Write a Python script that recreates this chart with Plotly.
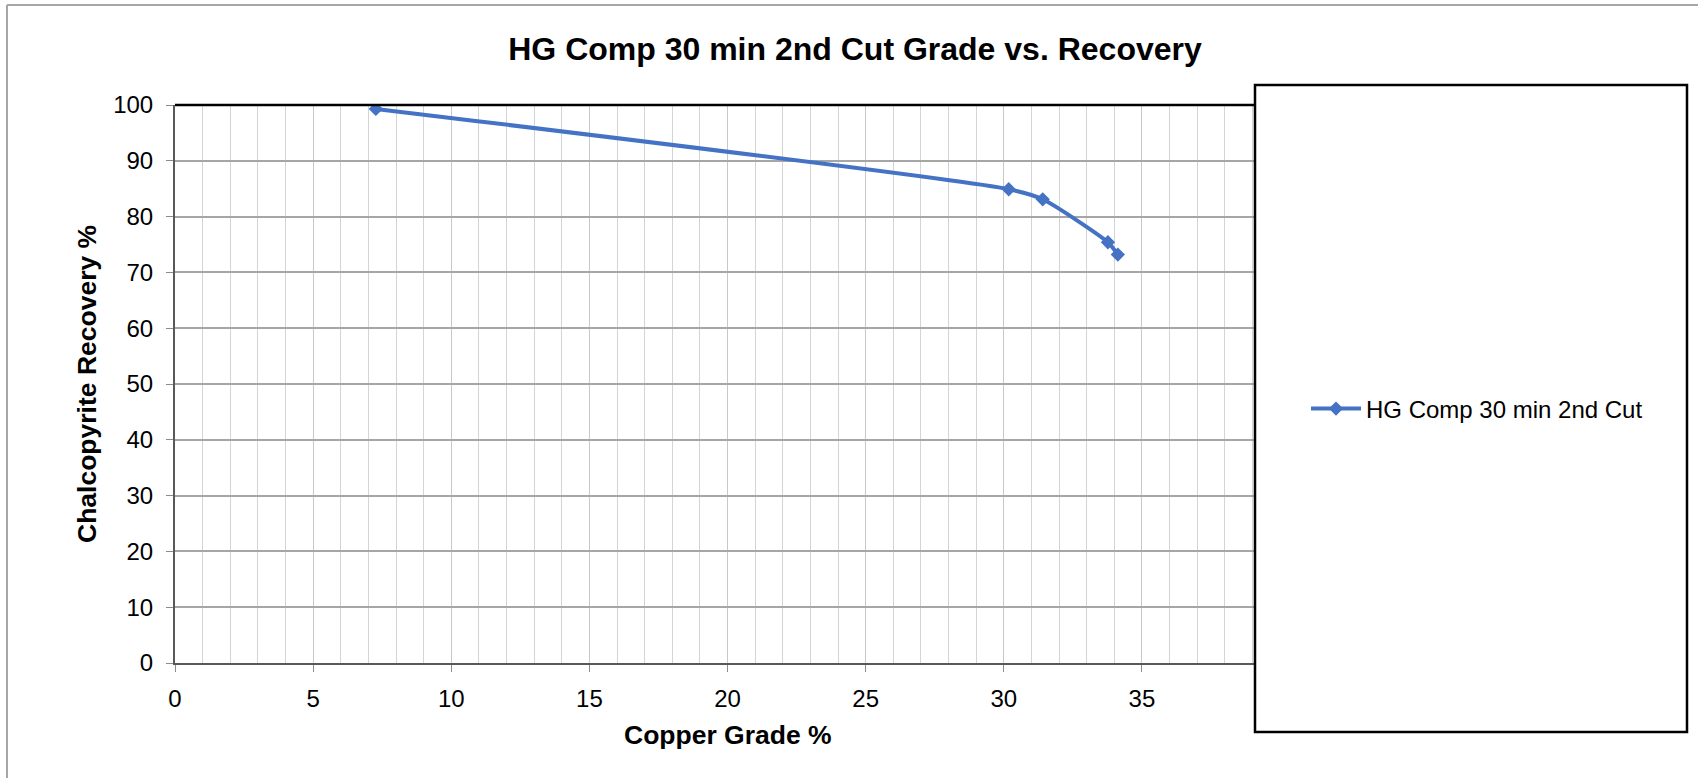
import plotly.graph_objects as go

# Grade / recovery points for the 30 min 2nd cut
copper_grade = [7.27, 30.18, 31.41, 33.77, 34.13]
cp_recovery = [99.3, 84.9, 83.1, 75.4, 73.2]
series_name = "HG Comp 30 min 2nd Cut"

W, H = 1698, 778
L, R, T, B = 175, 1280, 105, 663
FONT = "Liberation Sans, Arial, sans-serif"
BLUE = "#4472C4"


# pixel positions -> paper fractions of the plot area
def px_x(p):
    return (p - L) / (R - L)


def px_y(p):
    return (B - p) / (B - T)


fig = go.Figure()
fig.add_trace(go.Scatter(
    x=copper_grade, y=cp_recovery, name=series_name,
    mode="lines+markers",
    line=dict(color=BLUE, width=4, shape="spline", smoothing=0.6),
    marker=dict(symbol="diamond", size=11, color=BLUE),
))

fig.update_layout(
    width=W, height=H,
    margin=dict(l=L, r=W - R, t=T, b=H - B),
    paper_bgcolor="white", plot_bgcolor="white",
    font=dict(family=FONT, size=24, color="black"),
    title=dict(text="<b>HG Comp 30 min 2nd Cut Grade vs. Recovery</b>",
               font=dict(family=FONT, size=32, color="black"),
               x=px_x(855), xanchor="center", xref="paper",
               y=1 - 49 / H, yanchor="middle", yref="container"),
    showlegend=True,
    legend=dict(x=px_x(1306), y=px_y(409), xref="paper", yref="paper",
                xanchor="left", yanchor="middle",
                bgcolor="rgba(0,0,0,0)", borderwidth=0,
                font=dict(family=FONT, size=24, color="black"),
                itemwidth=50),
)

fig.update_xaxes(
    range=[0, 40], dtick=5, tick0=0,
    showgrid=True, gridcolor="#C8C8C8", gridwidth=1,
    minor=dict(dtick=1, showgrid=True, gridcolor="#D4D4D4", gridwidth=1),
    showline=True, linecolor="#595959", linewidth=2,
    ticks="outside", ticklen=7, tickcolor="#8C8C8C", tickwidth=1,
    ticklabelstandoff=6,
    tickfont=dict(family=FONT, size=24, color="black"),
    zeroline=False,
)
fig.update_yaxes(
    range=[0, 100], dtick=10, tick0=0,
    showgrid=True, gridcolor="#A6A6A6", gridwidth=1.5,
    showline=True, linecolor="#595959", linewidth=2,
    ticks="outside", ticklen=7, tickcolor="#8C8C8C", tickwidth=1,
    ticklabelstandoff=8,
    tickfont=dict(family=FONT, size=24, color="black"),
    zeroline=False,
)

# axis titles
fig.add_annotation(text="<b>Copper Grade %</b>", xref="paper", yref="paper",
                   x=px_x(728), y=px_y(735), xanchor="center", yanchor="middle",
                   showarrow=False, font=dict(family=FONT, size=26.5, color="black"))
fig.add_annotation(text="<b>Chalcopyrite Recovery %</b>", xref="paper", yref="paper",
                   x=px_x(87), y=px_y(384), xanchor="center", yanchor="middle",
                   textangle=-90, showarrow=False,
                   font=dict(family=FONT, size=26.5, color="black"))

# plot-area top border
fig.add_shape(type="line", xref="paper", yref="paper",
              x0=0, x1=1, y0=1, y1=1, line=dict(color="black", width=2.5), layer="above")
# outer chart frame (top and left edges)
fig.add_shape(type="line", xref="paper", yref="paper",
              x0=px_x(7), x1=px_x(W), y0=px_y(5), y1=px_y(5),
              line=dict(color="#A6A6A6", width=2), layer="above")
fig.add_shape(type="line", xref="paper", yref="paper",
              x0=px_x(7), x1=px_x(7), y0=px_y(5), y1=px_y(H),
              line=dict(color="#A6A6A6", width=2), layer="above")
# legend frame, overlapping the right end of the plot area
fig.add_shape(type="rect", xref="paper", yref="paper",
              x0=px_x(1255), x1=px_x(1687), y0=px_y(85), y1=px_y(732),
              line=dict(color="black", width=2.5), fillcolor="white", layer="above")

fig.write_html("out.html")
